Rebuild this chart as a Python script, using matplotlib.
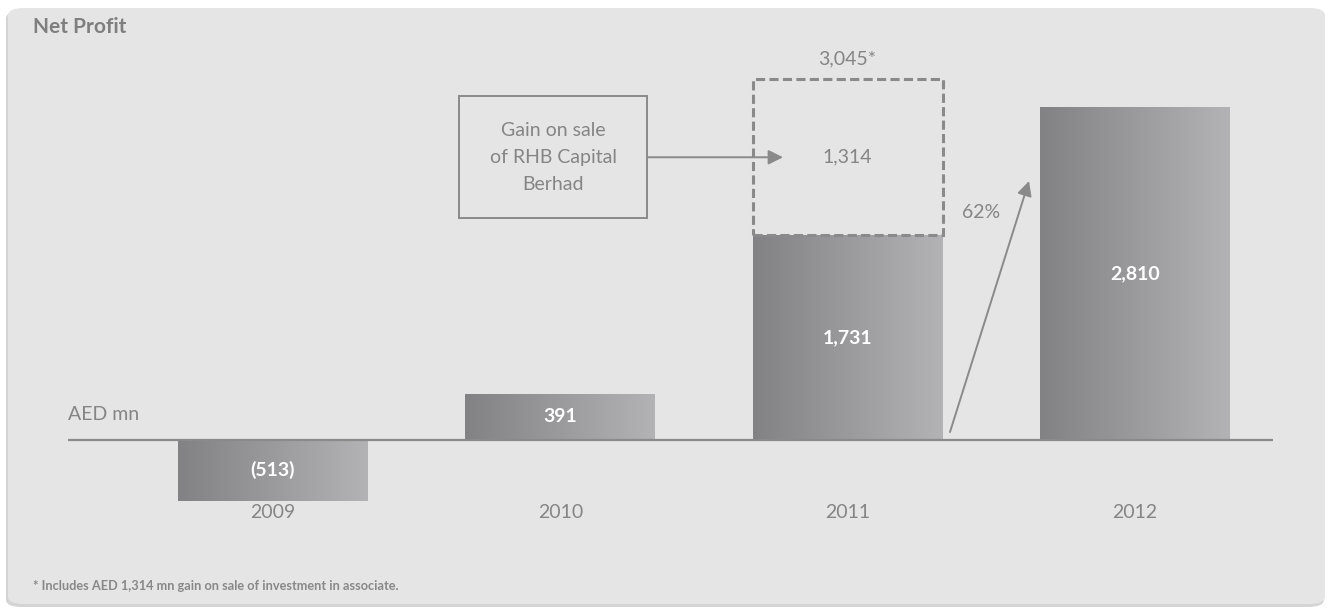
import matplotlib
matplotlib.use("Agg")
import matplotlib.pyplot as plt
import numpy as np
from matplotlib.patches import FancyBboxPatch, Rectangle
from matplotlib.colors import LinearSegmentedColormap

# ---- data ----
years = ["2009", "2010", "2011", "2012"]
net_profit = [-513, 391, 1731, 2810]
bar_labels = ["(513)", "391", "1,731", "2,810"]
gain_on_sale = 1314
total_2011 = 3045
total_2011_label = "3,045*"
gain_label = "1,314"
growth_label = "62%"
title = "Net Profit"
unit_label = "AED mn"
note_lines = ["Gain on sale", "of RHB Capital", "Berhad"]
footnote = "* Includes AED 1,314 mn gain on sale of investment in associate."

plt.rcParams['font.family'] = ['Lato', 'DejaVu Sans']

W, H = 1333, 611
fig = plt.figure(figsize=(W / 100, H / 100), dpi=100)
fig.patch.set_facecolor("white")

# background card
shadow = FancyBboxPatch((6 / W, 4 / H), 1318 / W, 596 / H,
                        boxstyle="round,pad=0,rounding_size=0.012",
                        transform=fig.transFigure, facecolor="#d4d4d4",
                        edgecolor="none", zorder=-2)
card = FancyBboxPatch((8 / W, 7 / H), 1317 / W, 596 / H,
                      boxstyle="round,pad=0,rounding_size=0.012",
                      transform=fig.transFigure, facecolor="#e5e5e5",
                      edgecolor="none", zorder=-1)
fig.patches.extend([shadow, card])

# axes placement: baseline at y=440px, scale ~0.1184 px/unit
top_px, bot_px, base_px = 40, 540, 440
scale = 0.1184
spacing = 287.3
ax = fig.add_axes([30 / W, (H - bot_px) / H, 1280 / W, (bot_px - top_px) / H])
ax.set_zorder(1)
ax.set_facecolor("none")
ax.axis("off")

x = np.arange(len(years))
bw = 0.661
cmap = LinearSegmentedColormap.from_list("g", ["#828285", "#b3b3b5"])
grad = np.linspace(0, 1, 256).reshape(1, -1)
bars = ax.bar(x, net_profit, width=bw, color="none", edgecolor="none", zorder=2)
for b in bars:
    x0, y0 = b.get_x(), b.get_y()
    w, h = b.get_width(), b.get_height()
    im = ax.imshow(grad, cmap=cmap, aspect="auto", zorder=2,
                   extent=[x0, x0 + w, min(y0, y0 + h), max(y0, y0 + h)])
    im.set_clip_path(b)
ax.set_xlim(-(273 - 30) / spacing, (1310 - 273) / spacing)
ax.set_ylim(-(bot_px - base_px) / scale, (base_px - top_px) / scale)

gray = "#8a8a8a"
txt = "#858585"

# baseline
ax.hlines(0, (68 - 273) / spacing, (1273 - 273) / spacing, color=gray, lw=1.6, zorder=3)

# bar value labels
for xi, v, lab in zip(x, net_profit, bar_labels):
    ax.text(xi, v / 2, lab, ha="center", va="center", color="white",
            fontsize=14, fontweight="bold", zorder=4)

# year labels
for xi, yr in zip(x, years):
    ax.text(xi, -(512 - base_px) / scale, yr, ha="center", va="center",
            color=txt, fontsize=14)

# dashed box for 2011 gain
i11 = years.index("2011")
dash = Rectangle((i11 - bw / 2, net_profit[i11]), bw, total_2011 - net_profit[i11],
                 facecolor="none", edgecolor=gray, lw=2.2, linestyle=(0, (3, 1.4)),
                 zorder=3)
ax.add_patch(dash)
ax.text(i11, (net_profit[i11] + total_2011) / 2, gain_label, ha="center", va="center",
        color=txt, fontsize=14)
ax.annotate(total_2011_label, (i11, total_2011), xytext=(0, 9),
            textcoords="offset points", ha="center", va="bottom", color=txt, fontsize=14)

# note box
cy = (net_profit[i11] + total_2011) / 2
bx0, bx1 = (459 - 273) / spacing, (647 - 273) / spacing
bh = 122 / scale
ax.add_patch(Rectangle((bx0, cy - bh / 2), bx1 - bx0, bh, facecolor="none",
                       edgecolor=gray, lw=1.4, zorder=3))
ax.text((bx0 + bx1) / 2, cy, "\n".join(note_lines), ha="center", va="center",
        color=txt, fontsize=14, linespacing=1.7)
ax.annotate("", xy=((783 - 273) / spacing, cy), xytext=(bx1, cy),
            arrowprops=dict(arrowstyle="-|>", color=gray, lw=1.4,
                            mutation_scale=22, shrinkA=0, shrinkB=0), zorder=3)

# growth arrow
ax.annotate("", xy=((1029 - 273) / spacing, (base_px - 181) / scale),
            xytext=((950 - 273) / spacing, (base_px - 432) / scale),
            arrowprops=dict(arrowstyle="-|>", color=gray, lw=1.4,
                            mutation_scale=22, shrinkA=0, shrinkB=0), zorder=3)
ax.text((981 - 273) / spacing, (base_px - 213) / scale, growth_label, ha="center",
        va="center", color=txt, fontsize=14)

# unit label
ax.text((68 - 273) / spacing, (base_px - 414) / scale, unit_label, ha="left",
        va="center", color=txt, fontsize=14)

# title and footnote
fig.text(33 / W, 1 - 27 / H, title, ha="left", va="center", color="#7f7f7f",
         fontsize=15, fontweight="bold")
fig.text(33 / W, 1 - 586 / H, footnote, ha="left", va="center", color="#888888",
         fontsize=9.2, fontweight="bold")

fig.savefig("out.png", dpi=100, facecolor=fig.get_facecolor())
